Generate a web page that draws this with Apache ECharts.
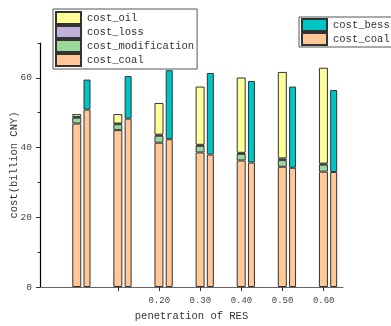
<!DOCTYPE html>
<html>
<head>
<meta charset="utf-8">
<script src="https://cdn.jsdelivr.net/npm/echarts@6/dist/echarts.min.js"></script>
<style>html,body{margin:0;padding:0;background:#fff}#c{width:391px;height:326px}</style>
</head>
<body>
<div id="c"></div>
<script>
// penetration of RES
var penetration = [0.0, 0.1, 0.2, 0.3, 0.4, 0.5, 0.6];
// left stack (billion CNY)
var costCoalA = [46.9, 45.0, 41.4, 38.6, 36.3, 34.5, 33.1];
var costModification = [1.7, 1.7, 2.0, 1.9, 1.9, 1.9, 2.0];
var costLoss = [0.2, 0.2, 0.3, 0.3, 0.3, 0.5, 0.3];
var costOil = [0.8, 2.7, 9.1, 16.7, 21.6, 24.8, 27.5];
// right stack (billion CNY)
var costCoalB = [50.9, 48.3, 42.4, 38.0, 35.7, 34.2, 33.0];
var costBess = [8.6, 12.2, 19.8, 23.4, 23.4, 23.3, 23.5];
// axis ticks
var xTickValues = [0.1, 0.2, 0.3, 0.4, 0.5, 0.6];
var xLabelValues = [0.2, 0.3, 0.4, 0.5, 0.6];
var yMajor = [0, 20, 40, 60];
var yMinor = [10, 30, 50, 70];

// value first so that it is the stacked dimension
function pairs(arr) { return penetration.map(function (x, i) { return [arr[i], x]; }); }

var FONT = 'Liberation Mono';
var border = { borderColor: '#333', borderWidth: 1 };
function bar(name, stack, data, color, w) {
  return {
    type: 'bar', name: name, stack: stack, data: pairs(data), barWidth: w, barGap: '25%',
    encode: { x: 1, y: 0 },
    itemStyle: Object.assign({ color: color }, border),
    emphasis: { disabled: true }
  };
}

var chart = echarts.init(document.getElementById('c'), null, { renderer: 'canvas' });
chart.setOption({
  animation: false,
  backgroundColor: '#fff',
  textStyle: { fontFamily: FONT },
  grid: { left: 40, right: 48, top: 43, bottom: 39, outerBoundsMode: 'none', containLabel: false },
  legend: [
    {
      data: ['cost_oil', 'cost_loss', 'cost_modification', 'cost_coal'],
      orient: 'vertical', left: 53, top: 9, padding: [2, 3, 2, 2],
      itemWidth: 25, itemHeight: 12, itemGap: 0, icon: 'rect',
      backgroundColor: '#fff', borderColor: '#555', borderWidth: 1,
      textStyle: { fontFamily: FONT, fontSize: 10.5, color: '#333', padding: [0, 0, 0, 1] },
      selectedMode: false
    },
    {
      data: ['cost_bess', 'cost_coal'],
      orient: 'vertical', left: 299, top: 17, padding: [1, 3, 1, 2],
      itemWidth: 25, itemHeight: 12, itemGap: 0, icon: 'rect',
      backgroundColor: '#fff', borderColor: '#555', borderWidth: 1,
      textStyle: { fontFamily: FONT, fontSize: 10.5, color: '#333', padding: [0, 0, 0, 1] },
      selectedMode: false
    }
  ],
  xAxis: {
    type: 'value', min: -0.09, max: 0.647,
    name: 'penetration of RES', nameLocation: 'middle', nameGap: 24, nameMoveOverlap: false,
    nameTextStyle: { fontFamily: FONT, fontSize: 10.5, color: '#333' },
    axisLine: { show: true, onZero: false, lineStyle: { color: '#666', width: 1.2 } },
    axisTick: { show: true, length: 4, customValues: xTickValues, lineStyle: { color: '#333' } },
    axisLabel: { customValues: xLabelValues, formatter: function (v) { return v.toFixed(2); },
      fontFamily: FONT, fontSize: 9, color: '#444', margin: 9 },
    splitLine: { show: false }
  },
  yAxis: [
    {
      type: 'value', min: 0, max: 70,
      name: 'cost(billion CNY)', nameLocation: 'middle', nameGap: 20, nameRotate: 90, nameMoveOverlap: false,
      nameTextStyle: { fontFamily: FONT, fontSize: 10.5, color: '#333' },
      axisLine: { show: true, onZero: false, lineStyle: { color: '#000', width: 1.2 } },
      axisTick: { show: true, length: 4, customValues: yMajor, lineStyle: { color: '#333' } },
      axisLabel: { customValues: yMajor, fontFamily: FONT, fontSize: 9.5, color: '#444', margin: 8 },
      splitLine: { show: false }
    },
    {
      type: 'value', min: 0, max: 70, position: 'left',
      axisLine: { show: false, onZero: false },
      axisTick: { show: true, length: 2.5, customValues: yMinor, lineStyle: { color: '#333' } },
      axisLabel: { show: false },
      splitLine: { show: false }
    }
  ],
  series: [
    { type: 'bar', name: 'spacer', stack: 'spacer', data: penetration.map(function (x) { return [null, x]; }),
      encode: { x: 1, y: 0 }, barWidth: 7, barGap: '25%', silent: true, itemStyle: { color: 'transparent' } },
    bar('cost_coal', 'A', costCoalA, '#ffc896', 9),
    bar('cost_modification', 'A', costModification, '#9cd89c', 9),
    bar('cost_loss', 'A', costLoss, '#c2b2d8', 9),
    bar('cost_oil', 'A', costOil, '#ffff99', 9),
    bar('cost_coal', 'B', costCoalB, '#ffc896', 7),
    bar('cost_bess', 'B', costBess, '#00c5c5', 7)
  ]
});
</script>
</body>
</html>
